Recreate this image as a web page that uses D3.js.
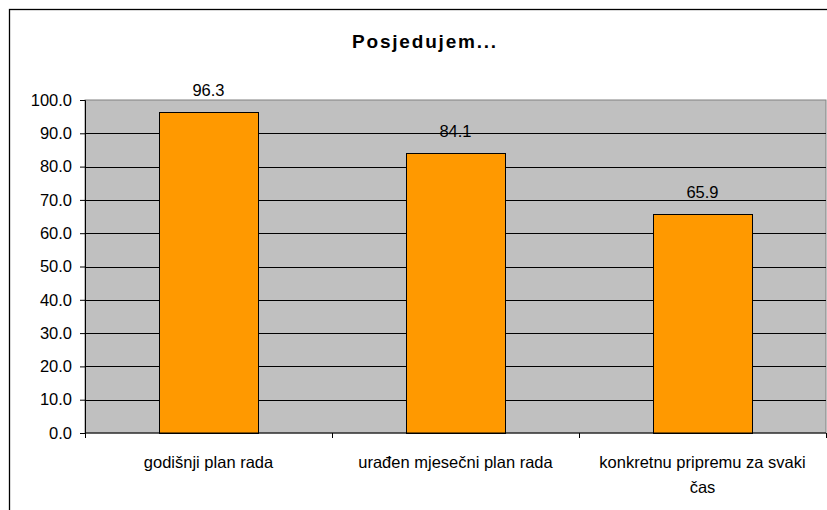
<!DOCTYPE html>
<html>
<head>
<meta charset="utf-8">
<title>Posjedujem...</title>
<script src="https://d3js.org/d3.v7.min.js"></script>
<style>
  body { margin: 0; background: #fff; }
  svg { display: block; font-family: "Liberation Sans", Arial, sans-serif; }
</style>
</head>
<body>
<svg id="chart" width="827" height="510"></svg>
<script>
// data
const categories = [
  ["godišnji plan rada"],
  ["urađen mjesečni plan rada"],
  ["konkretnu pripremu za svaki", "čas"]
];
const values = [96.3, 84.1, 65.9];
const yTicks = [0, 10, 20, 30, 40, 50, 60, 70, 80, 90, 100];
const title = "Posjedujem...";

const svg = d3.select("#chart");
const margin = { top: 100, right: 1, bottom: 77, left: 85 };
const width = 827 - margin.left - margin.right,
      height = 510 - margin.top - margin.bottom;
const fs = 16.5;

// outer chart frame (runs past the right and bottom edges)
svg.append("rect")
  .attr("x", 9.5).attr("y", 9.5)
  .attr("width", 840).attr("height", 520)
  .attr("fill", "#fff")
  .attr("stroke", "#000").attr("stroke-width", 1.3);

svg.append("text")
  .attr("x", 425).attr("y", 48)
  .attr("text-anchor", "middle")
  .attr("font-size", 19).attr("font-weight", "bold")
  .attr("letter-spacing", 1.8)
  .text(title);

const g = svg.append("g")
  .attr("transform", "translate(" + margin.left + "," + margin.top + ")");

const x = d3.scaleBand()
  .domain(d3.range(categories.length))
  .range([0, width])
  .paddingInner(0.6).paddingOuter(0.3);

const y = d3.scaleLinear().domain([0, 100]).range([height, 0]);

// plot area
g.append("rect")
  .attr("width", width).attr("height", height)
  .attr("fill", "#c0c0c0")
  .attr("stroke", "#808080");

// gridlines
g.selectAll(".grid")
  .data(yTicks.filter(d => d > 0 && d < 100))
  .enter().append("line")
  .attr("x1", 0).attr("x2", width)
  .attr("y1", d => Math.round(y(d)) + 0.5)
  .attr("y2", d => Math.round(y(d)) + 0.5)
  .attr("stroke", "#000");

// bars
g.selectAll(".bar")
  .data(values)
  .enter().append("rect")
  .attr("x", (d, i) => Math.round(x(i)) + 0.5)
  .attr("y", d => Math.round(y(d)) + 0.5)
  .attr("width", Math.round(x.bandwidth()))
  .attr("height", d => Math.round(height - y(d)))
  .attr("fill", "#ff9900")
  .attr("stroke", "#000");

// value labels
g.selectAll(".val")
  .data(values)
  .enter().append("text")
  .attr("x", (d, i) => x(i) + x.bandwidth() / 2)
  .attr("y", d => y(d) - 16)
  .attr("text-anchor", "middle")
  .attr("font-size", fs)
  .text(d => d.toFixed(1));

// y axis
const yAxis = g.append("g")
  .call(d3.axisLeft(y).tickValues(yTicks).tickSize(5).tickFormat(d3.format(".1f")));
yAxis.select(".domain").attr("stroke", "#000");
yAxis.selectAll("text").attr("font-size", fs).attr("font-family", "Liberation Sans, Arial, sans-serif")
  .attr("fill", "#000").attr("x", -13);

// x axis: ticks between categories
const cw = width / categories.length;
const xAxis = g.append("g").attr("transform", "translate(0," + height + ")");
xAxis.append("line").attr("x1", 0).attr("x2", width).attr("stroke", "#000");
xAxis.selectAll(".xt")
  .data(d3.range(categories.length + 1))
  .enter().append("line")
  .attr("x1", i => Math.round(i * cw) + 0.5).attr("x2", i => Math.round(i * cw) + 0.5)
  .attr("y1", 0).attr("y2", 5)
  .attr("stroke", "#000");

const labels = xAxis.selectAll(".xl")
  .data(categories)
  .enter().append("text")
  .attr("font-size", fs)
  .attr("text-anchor", "middle")
  .attr("transform", (d, i) => "translate(" + (x(i) + x.bandwidth() / 2) + ",35)");
labels.selectAll("tspan")
  .data(d => d)
  .enter().append("tspan")
  .attr("x", 0)
  .attr("dy", (d, j) => j === 0 ? 0 : 25)
  .text(d => d);
</script>
</body>
</html>
